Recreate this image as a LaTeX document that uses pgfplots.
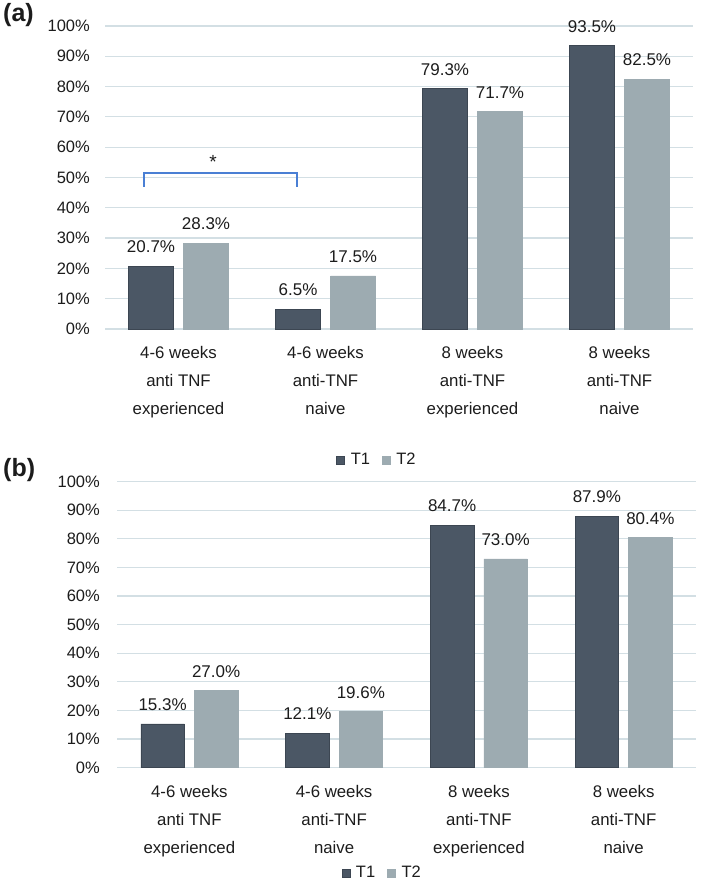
\documentclass[border=0pt]{standalone}
\usepackage{fontspec}
\setmainfont{Liberation Sans}
\usepackage{pgfplots}
\pgfplotsset{compat=1.18}
\definecolor{tone}{HTML}{4B5765}
\definecolor{tonee}{HTML}{3C4652}
\definecolor{ttwo}{HTML}{9DABB1}
\definecolor{gridc}{HTML}{D3DFE4}
\definecolor{brk}{HTML}{4A7FD4}
\definecolor{txt}{HTML}{1C1C1C}

\pgfplotsset{
 panel/.style={
  scale only axis, anchor=south west, clip=false,
  xmin=-0.5, xmax=3.5, ymin=0, ymax=100,
  ybar=10pt,
  axis line style={draw=none},
  major tick length=0pt,
  ymajorgrids, grid style={gridc, line width=1.2pt},
  ytick={0,10,...,100},
  yticklabel={\pgfmathprintnumber{\tick}\%},
  /pgf/number format/assume math mode=true,
  xtick={0,1,2,3},
  xticklabels={{4-6 weeks\\anti TNF\\experienced},{4-6 weeks\\anti-TNF\\naive},{8 weeks\\anti-TNF\\experienced},{8 weeks\\anti-TNF\\naive}},
  yticklabel style={anchor=east, inner sep=0pt, font=\fontsize{16.5}{19}\selectfont, text=txt},
  xticklabel style={align=center, anchor=north, inner sep=0pt, yshift=-17pt, font=\fontsize{16.8}{28}\selectfont, text=txt},
  nodes near coords={\pgfmathprintnumber[fixed,fixed zerofill,precision=1]{\pgfplotspointmeta}\%},
  nodes near coords style={anchor=south, inner sep=0pt, yshift=13pt, font=\fontsize{17}{20}\selectfont, text=txt},
  legend columns=2,
  legend style={draw=none, fill=none, anchor=center, font=\fontsize{16.5}{19}\selectfont, text=txt,
    /tikz/every odd column/.append style={column sep=4pt},
    /tikz/every even column/.append style={column sep=10pt}},
  legend image code/.code={\draw[#1, line width=0.4pt] (0pt,-4pt) rectangle (8pt,4pt);},
 },
 t1/.style={fill=tone, draw=tonee, line width=0.6pt},
 t2/.style={fill=ttwo, draw=ttwo, line width=0.6pt},
}

\begin{document}
\begin{tikzpicture}
\useasboundingbox (0,0) rectangle (709pt,885pt);

% Panel (a)
\node[anchor=west, inner sep=0pt, font=\fontsize{25}{29}\selectfont\bfseries, text=txt] at (3pt,870pt) {(a)};
\begin{axis}[panel, at={(105pt,556pt)}, width=588pt, height=303pt, bar width=45pt,
  yticklabel style={xshift=-15pt},
  legend style={at={(0.4626,-0.432)}}]
\addplot[t1] coordinates {(0,20.7) (1,6.5) (2,79.3) (3,93.5)};
\addplot[t2] coordinates {(0,28.3) (1,17.5) (2,71.7) (3,82.5)};
\legend{T1,T2}
\draw[brk, line width=1.4pt] (axis cs:-0.235,46.9) |- (axis cs:0.806,51.5) -- (axis cs:0.806,46.9);
\node[anchor=south, inner sep=0pt, font=\fontsize{19}{22}\selectfont, text=txt] at (axis cs:0.235,52.8) {*};
\end{axis}

% Panel (b)
\node[anchor=west, inner sep=0pt, font=\fontsize{25}{29}\selectfont\bfseries, text=txt] at (3pt,415pt) {(b)};
\begin{axis}[panel, at={(117pt,117.3pt)}, width=579pt, height=286pt, bar width=43.5pt,
  yticklabel style={xshift=-17pt},
  legend style={at={(0.458,-0.368)}}]
\addplot[t1] coordinates {(0,15.3) (1,12.1) (2,84.7) (3,87.9)};
\addplot[t2] coordinates {(0,27.0) (1,19.6) (2,73.0) (3,80.4)};
\legend{T1,T2}
\end{axis}
\end{tikzpicture}
\end{document}
